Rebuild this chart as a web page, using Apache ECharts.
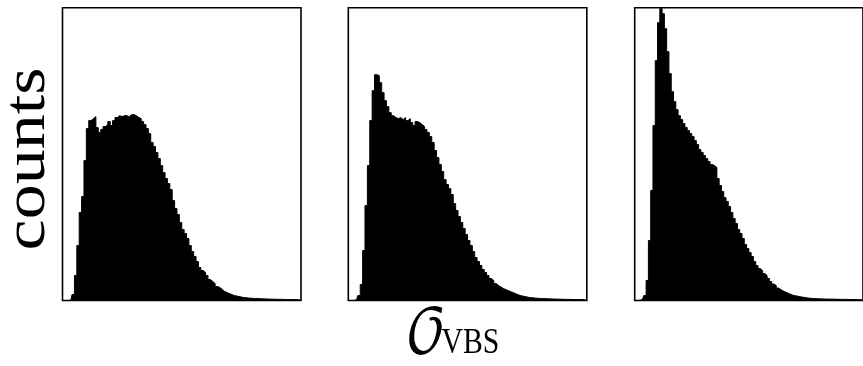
<!DOCTYPE html>
<html>
<head>
<meta charset="utf-8">
<script src="https://cdn.jsdelivr.net/npm/echarts@6/dist/echarts.min.js"></script>
<style>
  html, body { margin: 0; padding: 0; background: #fff; }
  #chart { width: 863px; height: 366px; }
</style>
</head>
<body>
<div id="chart"></div>
<script>
// Histogram bin centres of O_VBS (arbitrary units, 100 equal bins)
const binCenters = Array.from({ length: 100 }, (_, i) => ((i + 0.5) / 100).toFixed(3));

// Counts per bin, left panel
const countsLeft = [
  0, 0, 0, 0.3, 6, 25, 55, 88, 104, 140,
  172, 180, 182, 184, 173, 168, 171, 174, 176, 179,
  175, 180, 183, 185, 184, 185, 185, 184, 186, 186,
  185, 183, 182, 179, 176, 172, 167, 158, 154, 148,
  142, 135, 128, 122, 117, 111, 100, 92, 86, 78,
  71, 67, 62, 55, 49, 44, 39, 33, 30, 28,
  25, 21, 19, 17, 14, 13, 11, 9, 8, 7,
  6, 5, 4.5, 4, 3.5, 3, 2.8, 2.5,
  2.3, 2.1, 2, 1.9, 1.8, 1.7, 1.6, 1.5, 1.4, 1.3, 1.3, 1.2, 1.2, 1.1, 1.1, 1, 1, 1, 0.9, 0.9, 0.8, 0.8
];

// Counts per bin, middle panel
const countsMiddle = [
  0, 0, 0, 1, 5, 16, 50, 95, 135, 180,
  210, 226, 225, 218, 208, 200, 194, 188, 185, 183,
  182, 183, 181, 183, 180, 182, 178, 175, 179, 178,
  176, 174, 171, 168, 164, 158, 150, 143, 136, 129,
  121, 116, 112, 106, 97, 90, 84, 78, 72, 66,
  60, 55, 49, 43, 39, 35, 31, 28, 25, 22,
  20, 17, 15, 13.5, 12, 11, 10, 9, 8, 7,
  6, 5, 4.5, 4, 3.5, 3, 2.8, 2.5,
  2.3, 2.1, 2, 1.9, 1.8, 1.7, 1.6, 1.5, 1.4, 1.3, 1.3, 1.2, 1.2, 1.1, 1.1, 1, 1, 1, 0.9, 0.9, 0.8, 0.8
];

// Counts per bin, right panel
const countsRight = [
  0, 0, 0.3, 1.5, 5, 20, 60, 110, 175, 240,
  278, 292, 287, 272, 249, 227, 209, 199, 191, 185,
  181, 177, 173, 170, 167, 164, 160, 156, 151, 148,
  145, 142, 139, 136, 135, 133, 122, 115, 109, 103,
  99, 94, 88, 82, 77, 71, 67, 62, 56, 52,
  48, 44, 39, 35, 32, 30, 27, 25, 22, 19,
  16.5, 15, 12.5, 11, 9.5, 8.5, 7.5, 6.5, 5.5, 5,
  4.5, 4, 3.6, 3.2, 2.8, 2.5, 2.2, 2,
  1.9, 1.8, 1.7, 1.6, 1.5, 1.5, 1.4, 1.4, 1.3, 1.3, 1.2, 1.2, 1.1, 1.1, 1.1, 1, 1, 1, 1, 0.9, 0.9, 0.9
];

const panels = [countsLeft, countsMiddle, countsRight];
const yLabel = 'counts';
const xLabelMain = '𝒪';
const xLabelSub = 'VBS';

// Layout of the three framed panels
const panelLefts = [62.5, 348.3, 634.7];
const panelTop = 7.7;
const panelWidth = 238.5;
const panelHeight = 292.8;
const yMax = 293;

const serifFamily = '"Liberation Serif", "Times New Roman", "DejaVu Serif", serif';
const hidden = { show: false };

const option = {
  backgroundColor: '#ffffff',
  animation: false,
  grid: panelLefts.map(left => ({
    left: left, top: panelTop, width: panelWidth, height: panelHeight,
    show: true, borderColor: '#000', borderWidth: 1.6, backgroundColor: 'transparent',
    containLabel: false
  })),
  xAxis: panels.map((_, k) => ({
    type: 'category', gridIndex: k, data: binCenters, boundaryGap: true,
    axisLine: hidden, axisTick: hidden, axisLabel: hidden, splitLine: hidden
  })),
  yAxis: panels.map((_, k) => ({
    type: 'value', gridIndex: k, min: 0, max: yMax,
    axisLine: hidden, axisTick: hidden, axisLabel: hidden, splitLine: hidden
  })),
  series: panels.map((counts, k) => ({
    type: 'line', xAxisIndex: k, yAxisIndex: k, data: counts,
    step: 'middle', symbol: 'none', silent: true,
    lineStyle: { color: '#000', width: 1 },
    areaStyle: { color: '#000', opacity: 1 }
  })),
  graphic: [
    {
      type: 'text', x: 28, y: 159, rotation: Math.PI / 2, scaleY: 0.85,
      style: {
        text: yLabel, fill: '#000',
        fontFamily: serifFamily, fontSize: 70,
        align: 'center', verticalAlign: 'middle'
      }
    },
    {
      type: 'text', x: 405, y: 335, scaleX: 0.85,
      style: {
        text: xLabelMain, fill: '#000',
        fontFamily: '"DejaVu Math TeX Gyre", serif', fontSize: 62,
        align: 'left', verticalAlign: 'middle'
      }
    },
    {
      type: 'text', x: 441.5, y: 344, scaleX: 0.85,
      style: {
        text: xLabelSub, fill: '#000',
        fontFamily: serifFamily, fontSize: 35,
        align: 'left', verticalAlign: 'middle'
      }
    }
  ]
};

const chart = echarts.init(document.getElementById('chart'), null, { renderer: 'canvas' });
chart.setOption(option);
</script>
</body>
</html>
